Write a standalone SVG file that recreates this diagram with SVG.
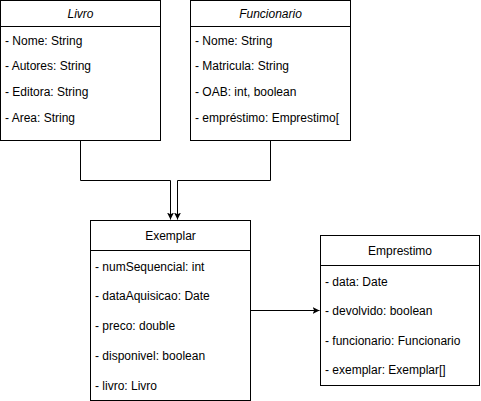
<svg xmlns="http://www.w3.org/2000/svg" width="481" height="401" viewBox="0 0 481 401">
<style>
rect.box{fill:#fff;stroke:#000;stroke-width:1}
line.sep{stroke:#000;stroke-width:1}
text{font-family:"Liberation Sans",Arial,sans-serif;font-size:12px;fill:#000}
.hdr{text-anchor:middle}
.it{font-style:italic}
.edge{fill:none;stroke:#000;stroke-width:1}
</style>
<defs>
<marker id="arr" viewBox="0 0 10 10" refX="10" refY="5" markerWidth="7" markerHeight="7" markerUnits="userSpaceOnUse" orient="auto">
<path d="M0,0 L10,5 L0,10 L2.5,5 Z" fill="#000"/>
</marker>
</defs>
<rect width="481" height="401" fill="#fff"/>
<g id="connectors">
<path class="edge" d="M80.5,140.5 V180.5 H170.5 V219.5" marker-end="url(#arr)"/>
<path class="edge" d="M270.5,140.5 V180.5 H177.5 V219.5" marker-end="url(#arr)"/>
<path class="edge" d="M250.5,310.5 H319.5" marker-end="url(#arr)"/>
</g>
<g id="Livro">
<rect class="box" x="0.5" y="0.5" width="160" height="140"/>
<line class="sep" x1="0.5" y1="26.5" x2="160.5" y2="26.5"/>
<text class="hdr it" x="80.5" y="18">Livro</text>
<text x="5" y="45">- Nome: String</text>
<text x="5" y="70">- Autores: String</text>
<text x="5" y="96">- Editora: String</text>
<text x="5" y="122">- Area: String</text>
</g>
<g id="Funcionario">
<rect class="box" x="190.5" y="0.5" width="160" height="140"/>
<line class="sep" x1="190.5" y1="26.5" x2="350.5" y2="26.5"/>
<text class="hdr it" x="270.5" y="18">Funcionario</text>
<text x="195" y="45">- Nome: String</text>
<text x="195" y="70">- Matricula: String</text>
<text x="195" y="96">- OAB: int, boolean</text>
<text x="195" y="122">- empréstimo: Emprestimo[</text>
</g>
<g id="Exemplar">
<rect class="box" x="90.5" y="220.5" width="160" height="180"/>
<line class="sep" x1="90.5" y1="250.5" x2="250.5" y2="250.5"/>
<text class="hdr" x="170.5" y="240">Exemplar</text>
<text x="95" y="271">- numSequencial: int</text>
<text x="95" y="300">- dataAquisicao: Date</text>
<text x="95" y="330">- preco: double</text>
<text x="95" y="360">- disponivel: boolean</text>
<text x="95" y="390">- livro: Livro</text>
</g>
<g id="Emprestimo">
<rect class="box" x="320.5" y="235.5" width="159" height="150"/>
<line class="sep" x1="320.5" y1="265.5" x2="479.5" y2="265.5"/>
<text class="hdr" x="400" y="255">Emprestimo</text>
<text x="325" y="286">- data: Date</text>
<text x="325" y="315">- devolvido: boolean</text>
<text x="325" y="345">- funcionario: Funcionario</text>
<text x="325" y="374">- exemplar: Exemplar[]</text>
</g>
</svg>
